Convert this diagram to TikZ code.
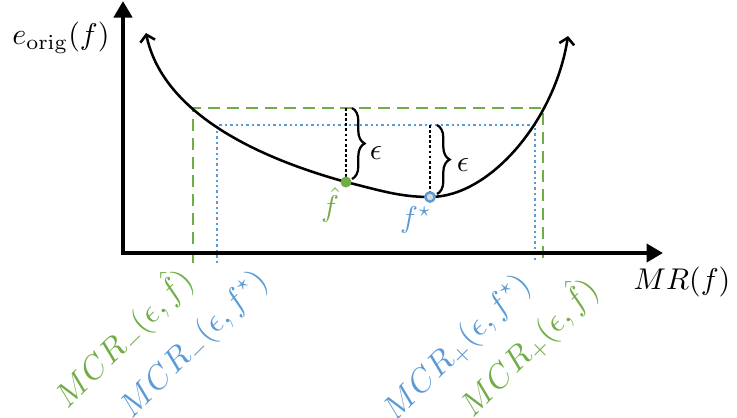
\documentclass[tikz,border=0pt]{standalone}
\usetikzlibrary{arrows.meta,decorations.pathreplacing}
\definecolor{ogreen}{HTML}{70AD47}
\definecolor{oblue}{HTML}{5B9BD5}
\definecolor{ogray}{HTML}{D9D9D9}
\tikzset{
  axisline/.style={line width=1.4pt, line join=miter, {Triangle[width=6pt,length=5.5pt]}-{Triangle[width=6pt,length=5.5pt]}},
  curveline/.style={line width=0.85pt, {Straight Barb[length=2.2pt,width=5pt]}-{Straight Barb[length=2.2pt,width=5pt]}},
  gdash/.style={ogreen, line width=0.85pt, dash pattern=on 4pt off 2.3pt},
  bdot/.style={oblue, line width=0.8pt, dash pattern=on 0.8pt off 1.0pt},
  kdot/.style={black, line width=0.95pt, dash pattern=on 0.95pt off 0.75pt},
  bracestyle/.style={line width=0.75pt, decorate, decoration={brace, amplitude=4.2pt}},
  rlab/.style={rotate=45, anchor=base east, inner sep=0pt, font=\fontsize{10.7}{13}\selectfont},
}
\begin{document}
\begin{tikzpicture}[x=0.3333pt,y=-0.3333pt]
\useasboundingbox (0,0) rectangle (737,417);
% named points
\coordinate (ytop) at (123,1);
\coordinate (O) at (123,253);
\coordinate (xend) at (663,253);
\coordinate (gTL) at (193,108);
\coordinate (gTR) at (543,108);
\coordinate (gBL) at (193,263);
\coordinate (gBR) at (543,263);
\coordinate (bTL) at (217,125);
\coordinate (bTR) at (535,125);
\coordinate (bBL) at (217,263);
\coordinate (bBR) at (535,263);
\coordinate (fh) at (346,182);
\coordinate (fs) at (430,197);
\coordinate (fhT) at (346,108);
\coordinate (fsT) at (430,125);
\coordinate (cstart) at (146,33);
\coordinate (cend) at (568,36);
% green dashed
\draw[gdash] (gBL) -- (gTL) -- (gTR) -- (gBR);
% blue dotted
\draw[bdot] (bBL) -- (bTL) -- (bTR) -- (bBR);
% black dotted
\draw[kdot] (fhT) -- (fh);
\draw[kdot] (fsT) -- (fs);
% axes
\draw[axisline] (ytop) -- (O) -- (xend);
% curve
\draw[curveline] (cstart) .. controls (160,100) and (230,150) .. (fh)
  .. controls (379.5,190.3) and (400,197) .. (fs)
  .. controls (490,197) and (555,120) .. (cend);
% braces
\draw[bracestyle] (352,108) -- (352,179);
\draw[bracestyle] (437,125) -- (437,194);
\node (e1) at (376,153) {$\epsilon$};
\node (e2) at (463,165) {$\epsilon$};
% dots
\fill[ogreen] (fh) circle (1.85pt);
\draw[oblue, fill=ogray, line width=0.8pt] (fs) circle (1.55pt);
\node[ogreen] (lfh) at (330,205) {$\hat f$};
\node[oblue] (lfs) at (416,220) {$f^\star$};
% axis labels
\node (ylab) at (61,38) {$e_{\mathrm{orig}}(f)$};
\node (xlab) at (682,282) {$MR(f)$};
% rotated labels
\node[rlab, ogreen] (l1) at (195,282) {$MCR_-(\epsilon,\hat f)$};
\node[rlab, oblue] (l2) at (269,282) {$MCR_-(\epsilon,f^\star)$};
\node[rlab, oblue] (l3) at (532,286) {$MCR_+(\epsilon,f^\star)$};
\node[rlab, ogreen] (l4) at (600,291) {$MCR_+(\epsilon,\hat f)$};
\end{tikzpicture}
\end{document}
